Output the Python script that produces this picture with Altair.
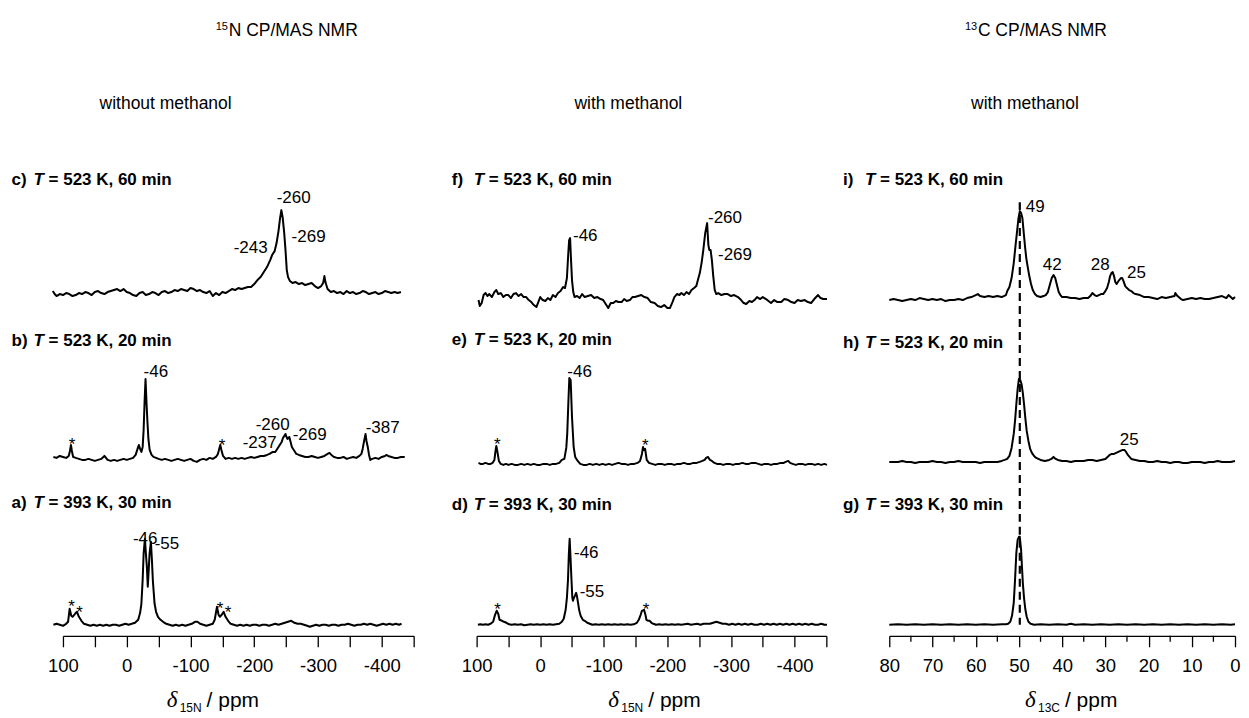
import altair as alt
import pandas as pd

FONT = "Liberation Sans"
SERIF = "Liberation Serif"

# ---------------- spectra: (chemical shift in ppm, intensity) ----------------
# 15N CP/MAS, without methanol
n_wo_393_30 = [(115,0),(110,1),(105,0),(100,-1),(95,1),(92,3),(89.5,16),(87,9),(85,8),(81,11),(78,13),(75,8),(71,4),(67,1),(62,0),(57,-1),(52,0),(47,-1),(42,0),(37,-1),(32,0),(27,-1),(22,0),(17,0),(12,-1),(7,0),(2,1),(-3,0),(-8,1),(-13,2),(-18,5),(-21,12),(-23,21),(-25,45),(-26.5,71),(-28.5,86),(-30,72),(-31.6,58),(-33,38),(-34.5,55),(-35.8,71),(-37.9,83),(-39.5,65),(-41,44),(-43.7,21),(-46,13),(-49,8),(-53,5),(-57,3),(-62,1),(-67,0),(-72,-1),(-77,0),(-82,-1),(-87,0),(-92,-1),(-97,0),(-102,1),(-107,3),(-111,3),(-115,1),(-120,0),(-125,-1),(-130,0),(-135,1),(-138,5),(-141.5,18),(-144,10),(-146,8),(-149,10),(-152,13),(-155,8),(-159,4),(-163,1),(-168,0),(-173,-1),(-178,0),(-183,-1),(-188,0),(-193,-1),(-198,0),(-203,0),(-208,-1),(-213,0),(-218,0),(-223,-1),(-228,0),(-233,1),(-238,0),(-243,1),(-248,2),(-253,3),(-258,4),(-263,2),(-268,1),(-273,1),(-278,0),(-283,-1),(-287,-2),(-292,-1),(-297,0),(-302,-1),(-307,0),(-312,0),(-317,-1),(-322,0),(-327,0),(-332,-1),(-337,0),(-342,0),(-347,1),(-352,0),(-357,-1),(-362,0),(-367,0),(-372,1),(-377,0),(-382,1),(-387,0),(-392,-1),(-397,0),(-402,1),(-407,0),(-412,1),(-417,0),(-422,1),(-427,0),(-431,1)]
n_wo_523_20 = [(115,0),(110,-1),(105,1),(100,0),(95,-1),(91,1),(89,6),(87.5,12),(86,6),(84,0),(80,-1),(75,-2),(70,-3),(65,-3),(60,-2),(55,-3),(50,-4),(45,-3),(40,-2),(35,1),(30,-3),(25,-4),(20,-3),(15,-4),(10,-3),(5,-2),(0,-3),(-5,-2),(-10,-1),(-14,2),(-17,8),(-19,12),(-21,8),(-23,5),(-25,10),(-26.5,27),(-28,55),(-29.5,78),(-31,55),(-32.5,35),(-34,18),(-36,7),(-39,2),(-42,0),(-46,-1),(-50,-2),(-55,-3),(-60,-2),(-65,-3),(-70,-4),(-75,-3),(-80,-2),(-85,-3),(-90,-4),(-95,-3),(-100,-2),(-105,-4),(-110,-5),(-115,-3),(-120,-2),(-125,-3),(-130,-1),(-135,-2),(-140,0),(-143,3),(-145,8),(-146.7,12),(-148.5,7),(-151,1),(-155,-2),(-160,-1),(-165,-2),(-170,-1),(-175,-2),(-180,-1),(-185,-2),(-190,-1),(-195,0),(-200,-1),(-205,0),(-210,1),(-215,1),(-220,2),(-224,3),(-229,5),(-233,5),(-236,8),(-240,12),(-243,15),(-245,19),(-247,21),(-249,23),(-250.5,20),(-252,18),(-253.5,19),(-255,20),(-257,15),(-259,10),(-261,8),(-264,5),(-266,3),(-270,2),(-275,1),(-280,0),(-285,0),(-290,1),(-295,0),(-300,-1),(-305,0),(-310,1),(-315,3),(-318,4),(-321,2),(-325,0),(-330,-1),(-335,-1),(-340,0),(-345,-2),(-350,-1),(-355,0),(-360,-1),(-365,1),(-368,3),(-370,8),(-372,15),(-374.5,23),(-376,16),(-378,10),(-380,2),(-382,-3),(-385,-2),(-390,-1),(-395,-2),(-400,0),(-405,1),(-407,2),(-410,1),(-415,0),(-420,-1),(-425,-1),(-430,0),(-436,0)]
n_wo_523_60 = [(116,2),(113,-1),(110,-3),(105,-1),(100,-2),(95,0),(90,-1),(85,-3),(80,-2),(75,0),(70,-1),(65,1),(60,0),(55,-2),(50,1),(45,2),(40,0),(35,-1),(30,1),(25,2),(20,3),(15,4),(10,2),(5,4),(0,1),(-5,0),(-10,-2),(-15,-3),(-20,0),(-25,1),(-30,-2),(-35,-1),(-40,1),(-45,0),(-50,-2),(-55,1),(-60,2),(-65,0),(-70,1),(-75,3),(-80,2),(-85,4),(-90,3),(-95,2),(-100,5),(-105,4),(-110,2),(-115,3),(-120,1),(-125,0),(-130,2),(-135,-3),(-140,0),(-145,-2),(-150,1),(-155,0),(-160,2),(-165,4),(-170,3),(-175,5),(-180,4),(-185,5),(-190,6),(-195,6),(-200,9),(-205,13),(-210,16),(-215,21),(-220,26),(-225,33),(-228,38),(-232,42),(-235,50),(-238,62),(-240.5,75),(-242.5,83),(-244.5,76),(-247,60),(-249,43),(-251,23),(-253,16),(-256,12),(-260,10),(-265,11),(-270,9),(-275,10),(-280,8),(-285,9),(-290,10),(-295,7),(-300,5),(-305,7),(-308,10),(-310,17),(-312,10),(-315,4),(-320,1),(-325,2),(-330,0),(-335,1),(-340,-1),(-345,2),(-350,0),(-355,1),(-360,-1),(-365,0),(-370,2),(-375,1),(-380,-1),(-385,0),(-390,1),(-395,-1),(-400,0),(-405,2),(-410,1),(-415,0),(-420,1),(-425,0),(-430,1)]

# 15N CP/MAS, with methanol
n_me_393_30 = [(98,0),(94,0.5),(90,0),(86,0.5),(82,0),(78,1),(74,3),(71,10),(68.5,14),(66,11),(64,5),(60,4),(57,3),(53,2),(49,0.5),(45,0),(40,0.5),(35,0),(30,0.5),(25,-0.5),(20,0),(15,0.5),(10,0),(5,0.5),(0,0),(-5,0.5),(-10,0),(-15,0.5),(-20,0),(-25,0.5),(-30,1),(-34,3),(-37,6),(-40,15),(-42,27),(-43.7,45),(-45,70),(-46.3,86),(-47.5,70),(-48.9,49),(-50.5,27),(-51.6,24),(-53,27),(-54.5,29),(-56.5,32),(-58,28),(-59.5,22),(-61.5,14),(-63.6,9),(-67,5),(-70,4),(-74,2),(-78,1),(-82,0),(-87,0.5),(-92,0),(-97,0.5),(-102,0),(-107,0.5),(-112,0),(-117,0.5),(-122,0),(-127,0.5),(-132,0),(-137,0.5),(-142,0),(-147,0.5),(-152,2),(-155,5),(-158,10),(-160,14),(-163.3,15),(-165.5,10),(-167,5),(-170,4),(-172,4),(-175,2),(-178,1),(-182,0),(-187,0.5),(-192,0),(-197,0.5),(-202,0),(-207,0.5),(-212,0),(-217,0.5),(-222,0),(-227,0.5),(-232,1),(-237,0),(-242,0.5),(-247,1),(-252,0),(-257,1),(-262,1),(-267,1),(-272,2),(-277,3),(-282,2),(-287,1),(-292,1),(-297,0),(-302,1),(-307,0),(-312,1),(-317,0),(-322,1),(-327,0),(-332,1),(-337,0),(-342,0),(-347,1),(-352,0),(-357,1),(-362,0),(-367,1),(-372,0),(-377,1),(-382,0),(-387,1),(-392,0),(-397,1),(-402,0),(-407,1),(-412,0),(-417,1),(-422,0),(-427,1),(-432,0),(-437,0),(-442,1),(-447,0),(-451,0)]
n_me_523_20 = [(97,1),(94,0),(90,0),(86,1),(82,0),(78,0),(75,1),(72,4),(70.5,12),(69,18),(67,11),(65,3),(62,0),(58,-1),(54,0),(50,-1),(45,0),(40,-1),(35,-1),(30,0),(25,-1),(20,0),(15,-1),(10,0),(5,-1),(0,-1),(-5,0),(-10,0),(-15,-1),(-20,0),(-25,0),(-30,1),(-34,4),(-38,5),(-41,16),(-42.5,30),(-44.2,60),(-45.8,86),(-47.9,84),(-50,47),(-52.6,17),(-55,7),(-59,3),(-63,0),(-68,-1),(-73,-1),(-78,0),(-83,-1),(-88,0),(-93,-1),(-98,0),(-103,-1),(-108,0),(-113,-1),(-118,0),(-123,1),(-128,0),(-133,0),(-138,-1),(-143,0),(-148,0),(-153,1),(-157,3),(-160,10),(-161.7,17),(-163,14),(-165,15),(-167.5,4),(-171,1),(-176,0),(-181,-1),(-186,0),(-191,0),(-196,-1),(-201,0),(-206,0),(-211,-1),(-216,0),(-221,0),(-226,1),(-231,0),(-236,0),(-241,1),(-246,1),(-251,2),(-255,3),(-258.6,4),(-261,6),(-264,7),(-267,4),(-270,3),(-274,1),(-278,0),(-283,0),(-288,-1),(-293,0),(-298,0),(-303,-1),(-308,0),(-313,0),(-318,1),(-323,0),(-328,0),(-333,1),(-338,1),(-343,0),(-348,-1),(-353,0),(-358,0),(-363,-1),(-368,0),(-373,0),(-378,1),(-383,1),(-386,2),(-390,3),(-393,1),(-397,0),(-402,-1),(-407,0),(-412,0),(-417,-1),(-422,0),(-427,0),(-432,-1),(-437,0),(-442,-1),(-447,0),(-451,-1)]
n_me_523_60 = [(97,0),(95,-6),(92,-3),(89,5),(86,7),(83,4),(80,6),(76,3),(72,8),(69,10),(66,6),(62,7),(58,3),(54,5),(50,5),(46,2),(42,6),(38,7),(34,4),(30,6),(26,3),(22,3),(18,0),(14,-2),(10,-5),(6,-7),(3,-2),(0,3),(-4,0),(-8,-1),(-12,2),(-16,0),(-20,5),(-24,3),(-28,7),(-32,9),(-36,13),(-39,12),(-42,22),(-44,45),(-45.5,60),(-47,62),(-48.5,40),(-50,20),(-52,8),(-54,3),(-58,4),(-62,2),(-66,6),(-70,3),(-75,4),(-80,5),(-85,2),(-90,3),(-95,1),(-99,0),(-103,-4),(-107,-8),(-111,-3),(-115,-3),(-119,-1),(-123,-2),(-128,-2),(-132,1),(-136,-1),(-141,0),(-145,3),(-149,3),(-154,4),(-159,5),(-164,3),(-169,2),(-174,-2),(-180,-3),(-185,-6),(-190,-7),(-195,-5),(-200,-8),(-204,-8),(-208,-2),(-211,3),(-215,6),(-219,5),(-222,7),(-226,5),(-230,8),(-234,6),(-238,10),(-242,12),(-245.5,14),(-248,20),(-251,27),(-254,38),(-256.5,50),(-259.5,67),(-262.5,77),(-264.5,55),(-266,50),(-268,50),(-270,40),(-272,25),(-274.5,10),(-277,6),(-280,7),(-285,5),(-290,6),(-295,6),(-300,4),(-305,5),(-311,3),(-316,0),(-320,-3),(-324,-4),(-329,-1),(-333,-2),(-337,0),(-341,3),(-346,1),(-350,3),(-355,1),(-359,-1),(-363,-3),(-368,0),(-373,-2),(-379,-2),(-384,1),(-390,0),(-395,-2),(-400,-3),(-405,0),(-410,-1),(-416,0),(-421,-2),(-426,-3),(-431,1),(-437,5),(-441,2),(-445,1),(-451,1)]

# 13C CP/MAS, with methanol
c_me_393_30 = [(80,0),(78,0.5),(76,0),(74,0.5),(72,0),(70,0.5),(68,0),(66,0.5),(64,0),(62,0.5),(60,0),(58,0.5),(56,0),(54,0.5),(53,0.5),(52.5,1),(52,3),(51.6,9),(51.2,22),(50.9,45),(50.6,72),(50.3,85),(50.0,88),(49.8,88),(49.5,75),(49.3,58),(49.1,42),(48.8,26),(48.5,15),(48.2,8),(47.8,3),(47.3,1),(46.5,0),(45,0.5),(43,0),(41,0.5),(39,0),(38,1),(37,0),(35,0.5),(33,0),(31,0.5),(29,0),(27,0.5),(25,0),(23,0.5),(21,0),(19,0.5),(17,0),(15,0.5),(13,0),(11,0.5),(9,0),(7,0.5),(5,0),(3,0.5),(1,0),(0,0.5)]
c_me_523_20 = [(80,-1),(79,-1),(78,-1),(77,0),(76,-1),(75,-1),(74,-2),(73,-1),(72,-1),(71,-1),(70,0),(69,-1),(68,-1),(67,-2),(66,-1),(65,-1),(64,0),(63,-1),(62,-1),(61,-1),(60,-1),(59,-2),(58,-1),(57,-1),(56,-1),(55,-1),(54,0),(53.3,1),(52.7,2),(52.2,5),(51.7,13),(51.2,27),(50.9,40),(50.6,57),(50.3,72),(50.0,82),(49.7,81),(49.4,77),(49.1,68),(48.8,56),(48.5,42),(48.2,30),(47.8,20),(47.4,12),(47,8),(46.5,5),(46,3),(45,1),(44,0),(43,1),(42.5,2),(42,4),(41.5,2),(41,1),(40,0),(39,0),(38,-1),(37,0),(36,0),(35,0),(34,1),(33,1),(32,0),(31,1),(30,2),(29.5,4),(29,6),(28.5,7),(28,7),(27.5,8),(27,9),(26.5,10),(26,11),(25.6,11),(25.2,9),(24.8,6),(24.4,4),(24,2),(23,1),(22,0),(21,0),(20,-1),(19,-1),(18,0),(17,-1),(16,-1),(15,-2),(14,-1),(13,-1),(12,-2),(11,-2),(10,-1),(9,-1),(8,-1),(7,-2),(6,-1),(5,-1),(4,0),(3,-1),(2,-1),(1,-1),(0,0)]
c_me_523_60 = [(80,-2),(79,-1),(78,-2),(77,-3),(76,-2),(75,-1),(74,-2),(73,0),(72,-1),(71,-2),(70,-1),(69,-2),(68,-1),(67,-3),(66,-2),(65,-2),(64,-1),(63,-2),(62,0),(61,1),(60,3),(59.5,4),(59,2),(58,1),(57,2),(56,1),(55,2),(54,1),(53,3),(52.7,7),(52.2,11),(51.7,20),(51.2,35),(50.8,52),(50.4,68),(50.1,80),(49.8,87),(49.5,85),(49.2,80),(48.9,66),(48.6,52),(48.3,40),(48,32),(47.6,22),(47.2,14),(46.8,8),(46.3,4),(45.8,2),(45,1),(44.3,2),(43.8,3),(43.3,6),(42.8,14),(42.4,20),(42,23),(41.6,20),(41.2,13),(40.8,6),(40.4,3),(40,1),(39,1),(38,0),(37,0),(36,-1),(35,0),(34,0),(33.5,2),(33,5),(32.5,3),(32,2),(31.5,3),(31,4),(30.5,4),(30,7),(29.6,10),(29.2,16),(28.9,22),(28.6,25),(28.3,26),(28,22),(27.7,16),(27.4,14),(27.1,16),(26.8,18),(26.4,20),(26.1,20),(25.8,17),(25.4,12),(25,10),(24.5,8),(24,7),(23.5,5),(23,4),(22,3),(21,1),(20,1),(19,0),(18,-1),(17,1),(16,0),(15,1),(14,2),(13.8,5),(13.3,2),(12.5,-1),(12,-2),(11,-1),(10,0),(9,-1),(8,0),(7,-1),(6,-1),(5,0),(4,1),(3,2),(2.5,1),(2,0),(1.5,3),(1,1),(0.5,-1),(0,1)]

# ---------------- text content ----------------
letters_left = ["c)", "b)", "a)"]
letters_mid = ["f)", "e)", "d)"]
letters_right = ["i)", "h)", "g)"]
conditions = ["= 523 K, 60 min", "= 523 K, 20 min", "= 393 K, 30 min"]

# peak labels: (ppm, height, text)
peaks_left_center = [(-261.8, 433, "-260"), (-228.8, 206, "-260"), (-28.9, 92, "-46")]
peaks_left_left = [(-258.6, 394, "-269"), (-26.5, 259, "-46"), (-260.3, 196, "-269"), (-374.7, 203, "-387"), (-43.8, 87, "-55")]
peaks_left_right = [(-221, 383, "-243"), (-235.1, 188, "-237")]
stars_left = [(85.6, 185.5), (-149.6, 184.5), (86.4, 24), (73.9, 18), (-146.5, 22), (-159, 18)]

peaks_mid_left = [(-51.6, 395, "-46"), (-263.9, 413, "-260"), (-279.6, 376, "-269"), (-42.6, 259, "-46"), (-53.2, 78, "-46"), (-62, 39, "-55")]
stars_mid = [(67.5, 185.5), (-165.3, 184.5), (67, 20.5), (-166.4, 21)]

peaks_right_left = [(48.4, 424, "49"), (25, 358, "25")]
peaks_right_center = [(42.3, 366, "42"), (31.2, 366, "28"), (24.5, 191, "25")]

ticks_n = list(range(100, -451, -50))
ticks_c_major = list(range(80, -1, -10))
ticks_c_minor = list(range(75, 0, -10))

# ---------------- helpers ----------------
YS = alt.Scale(domain=[0, 500], nice=False, zero=False)


def make_axis(values, label_mod):
    return alt.Axis(
        values=values,
        labelExpr=f"datum.value % {label_mod} == 0 ? '' + datum.value : ''",
        tickSize=11, tickWidth=1.3, domainWidth=1.3, domainColor="black",
        tickColor="black", labelColor="black", labelFont=FONT, labelFontSize=18.5,
        labelPadding=10, grid=False, title=None, labelFlush=False, labelOverlap=False,
    )


def lines_df(specs):
    rows = []
    for name, pairs, off in specs:
        for i, (x, v) in enumerate(pairs):
            rows.append({"spec": name, "idx": i, "ppm": x, "y": v + off})
    return pd.DataFrame(rows)


def text_layer(rows, xs, ax, size=17, weight="normal", style="normal", align="center",
               font=FONT, dx=0, dy=0):
    df = pd.DataFrame(rows, columns=["ppm", "y", "label"])
    return alt.Chart(df).mark_text(
        font=font, fontSize=size, fontWeight=weight, fontStyle=style, align=align,
        baseline="alphabetic", dx=dx, dy=dy, color="black"
    ).encode(
        x=alt.X("ppm:Q", scale=xs, axis=ax),
        y=alt.Y("y:Q", scale=YS, axis=None),
        text="label:N",
    )


def panel_labels(xpos, ys, letters, xs, ax):
    a = text_layer([(xpos, y, l) for y, l in zip(ys, letters)], xs, ax, weight="bold", align="left")
    t = text_layer([(xpos, y, "T") for y in ys], xs, ax, weight="bold", style="italic", align="left", dx=22)
    r = text_layer([(xpos, y, c) for y, c in zip(ys, conditions)], xs, ax, weight="bold", align="left", dx=37)
    return [a, t, r]


def header(xpos, iso, rest, xs, ax):
    s = text_layer([(xpos, 606, iso)], xs, ax, size=11, align="left")
    m = text_layer([(xpos, 600, rest)], xs, ax, size=17.5, align="left", dx=13)
    return [s, m]


def axis_title(xpos, nucleus, xs, ax):
    d = text_layer([(xpos, -71, "δ")], xs, ax, size=23, style="italic", align="left", font=SERIF)
    s = text_layer([(xpos, -76, nucleus)], xs, ax, size=12, align="left", dx=13)
    p = text_layer([(xpos, -71, "/ ppm")], xs, ax, size=21, align="left", dx=40)
    return [d, s, p]


def line_layer(df, xs, ax):
    return alt.Chart(df).mark_line(color="black", strokeWidth=2, strokeJoin="round").encode(
        x=alt.X("ppm:Q", scale=xs, axis=ax),
        y=alt.Y("y:Q", scale=YS, axis=None),
        detail="spec:N",
        order="idx:Q",
    )


# ---------------- left panel: 15N without methanol ----------------
xs_l = alt.Scale(domain=[100, -450], nice=False, zero=False)
ax_l = make_axis(ticks_n, 100)
df_l = lines_df([("a", n_wo_393_30, 11), ("b", n_wo_523_20, 179), ("c", n_wo_523_60, 343)])
left_layers = [line_layer(df_l, xs_l, ax_l)]
left_layers += panel_labels(180.5, [451, 290, 128], letters_left, xs_l, ax_l)
left_layers += [
    text_layer(peaks_left_center, xs_l, ax_l),
    text_layer(peaks_left_left, xs_l, ax_l, align="left"),
    text_layer(peaks_left_right, xs_l, ax_l, align="right"),
    text_layer([(x, y, "*") for x, y in stars_left], xs_l, ax_l),
    text_layer([(-61, 527, "without methanol")], xs_l, ax_l, size=17.5),
]
left_layers += header(-139.5, "15", "N CP/MAS NMR", xs_l, ax_l)
left_layers += axis_title(-62.6, "15N", xs_l, ax_l)
left = alt.layer(*left_layers).properties(width=351, height=500)

# ---------------- middle panel: 15N with methanol ----------------
xs_m = alt.Scale(domain=[100, -450], nice=False, zero=False)
ax_m = make_axis(ticks_n, 100)
df_m = lines_df([("d", n_me_393_30, 11), ("e", n_me_523_20, 172), ("f", n_me_523_60, 336)])
mid_layers = [line_layer(df_m, xs_m, ax_m)]
mid_layers += panel_labels(139, [451, 291, 126], letters_mid, xs_m, ax_m)
mid_layers += [
    text_layer(peaks_mid_left, xs_m, ax_m, align="left"),
    text_layer([(x, y, "*") for x, y in stars_mid], xs_m, ax_m),
    text_layer([(-138.6, 527, "with methanol")], xs_m, ax_m, size=17.5),
]
mid_layers += axis_title(-107.1, "15N", xs_m, ax_m)
mid = alt.layer(*mid_layers).properties(width=350, height=500)

# ---------------- right panel: 13C with methanol ----------------
xs_r = alt.Scale(domain=[80, 0], nice=False, zero=False)
ax_r = make_axis(ticks_c_major, 10)
df_r = lines_df([("g", c_me_393_30, 11), ("h", c_me_523_20, 175), ("i", c_me_523_60, 338)])
minor = pd.DataFrame({"ppm": ticks_c_minor, "top": 0, "bot": -6})
minor_layer = alt.Chart(minor).mark_rule(color="black", strokeWidth=1.3).encode(
    x=alt.X("ppm:Q", scale=xs_r, axis=ax_r),
    y=alt.Y("top:Q", scale=YS, axis=None),
    y2="bot:Q",
)
guide = pd.DataFrame({"ppm": [49.8], "top": [434], "bot": [11]})
guide_layer = alt.Chart(guide).mark_rule(color="black", strokeWidth=2.2, strokeDash=[8, 5]).encode(
    x=alt.X("ppm:Q", scale=xs_r, axis=ax_r),
    y=alt.Y("top:Q", scale=YS, axis=None),
    y2="bot:Q",
)
right_layers = [line_layer(df_r, xs_r, ax_r), minor_layer, guide_layer]
right_layers += panel_labels(90.7, [451, 288, 126], letters_right, xs_r, ax_r)
right_layers += [
    text_layer(peaks_right_left, xs_r, ax_r, align="left"),
    text_layer(peaks_right_center, xs_r, ax_r),
    text_layer([(48.6, 527, "with methanol")], xs_r, ax_r, size=17.5),
]
right_layers += header(62.5, "13", "C CP/MAS NMR", xs_r, ax_r)
right_layers += axis_title(48.6, "13C", xs_r, ax_r)
right = alt.layer(*right_layers).properties(width=346, height=500)

chart = alt.hconcat(left, mid, right, spacing=63, bounds="flush").properties(
    padding={"left": 3, "top": 13, "right": 0, "bottom": 0},
    background="white",
).configure_view(stroke=None)

chart.save("out.html", embed_options={"renderer": "svg", "actions": False})
